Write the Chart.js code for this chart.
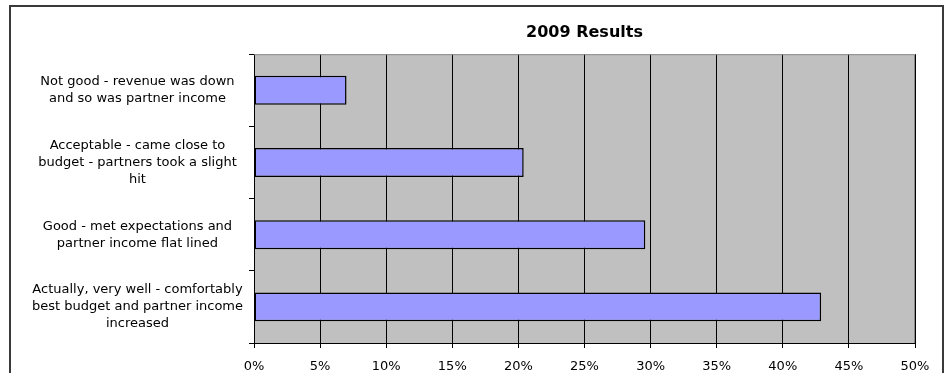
<!DOCTYPE html>
<html>
<head>
<meta charset="utf-8">
<script src="https://cdn.jsdelivr.net/npm/chart.js@4"></script>
<style>
    html, body { margin: 0; padding: 0; background: #fff; overflow: hidden; }
    .wrap { position: relative; width: 944px; height: 373px; }
    .frame {
        position: absolute; left: 9px; top: 5px; width: 931px; height: 400px;
        border: 2px solid #3a3a3a; pointer-events: none;
    }
</style>
</head>
<body>
<div class="wrap">
    <canvas id="chart1" width="944" height="373"></canvas>
    <div class="frame"></div>
</div>
<script>
const categories = [
    ['Not good - revenue was down', 'and so was partner income'],
    ['Acceptable - came close to', 'budget - partners took a slight', 'hit'],
    ['Good - met expectations and', 'partner income flat lined'],
    ['Actually, very well - comfortably', 'best budget and partner income', 'increased'],
];
const results = [7.0, 20.4, 29.6, 42.9];
const percentTicks = { min: 0, max: 50, step: 5 };

const font = { family: '"DejaVu Sans", Verdana, sans-serif', size: 13 };

// gray plot background + light border on top/right, like the old Excel look
const plotArea = {
    id: 'plotArea',
    beforeDraw(chart) {
        const { ctx, chartArea: a } = chart;
        ctx.save();
        ctx.fillStyle = '#c0c0c0';
        ctx.fillRect(a.left, a.top, a.right - a.left, a.bottom - a.top);
        ctx.restore();
    },
    beforeDatasetsDraw(chart) {
        const { ctx, chartArea: a } = chart;
        ctx.save();
        ctx.strokeStyle = '#8a8a8a';
        ctx.lineWidth = 1;
        ctx.beginPath();
        ctx.moveTo(a.left, a.top + 0.5);
        ctx.lineTo(a.right - 0.5, a.top + 0.5);
        ctx.lineTo(a.right - 0.5, a.bottom);
        ctx.stroke();
        ctx.restore();
    },
};

new Chart(document.getElementById('chart1'), {
    type: 'bar',
    data: {
        labels: categories,
        datasets: [{
            data: results,
            backgroundColor: '#9999ff',
            borderColor: '#000',
            borderWidth: 1.5,
            borderSkipped: false,
            barPercentage: 0.4,
            categoryPercentage: 1,
        }],
    },
    options: {
        indexAxis: 'y',
        responsive: false,
        animation: false,
        layout: { padding: { left: 10, right: 29, top: 0, bottom: 0 } },
        plugins: {
            legend: { display: false },
            tooltip: { enabled: false },
            title: {
                display: true,
                text: '2009 Results',
                fullSize: false,
                color: '#000',
                font: { family: font.family, size: 16, weight: 'bold' },
                padding: { top: 23, bottom: 12 },
            },
        },
        scales: {
            x: {
                min: percentTicks.min,
                max: percentTicks.max,
                afterFit: (scale) => { scale.height = 30; },
                ticks: {
                    stepSize: percentTicks.step,
                    color: '#000',
                    font,
                    padding: 11,
                    maxRotation: 0,
                    callback: (v) => v + '%',
                },
                grid: { color: '#000', lineWidth: 1, tickLength: 5 },
                border: { color: '#000', width: 1 },
            },
            y: {
                afterFit: (scale) => { scale.width = 244; },
                ticks: {
                    color: '#000',
                    font: { ...font, lineHeight: 1.3 },
                    padding: 6,
                    crossAlign: 'center',
                },
                grid: { offset: true, drawOnChartArea: false, color: '#000', tickLength: 5 },
                border: { color: '#000', width: 1 },
            },
        },
    },
    plugins: [plotArea],
});
</script>
</body>
</html>
